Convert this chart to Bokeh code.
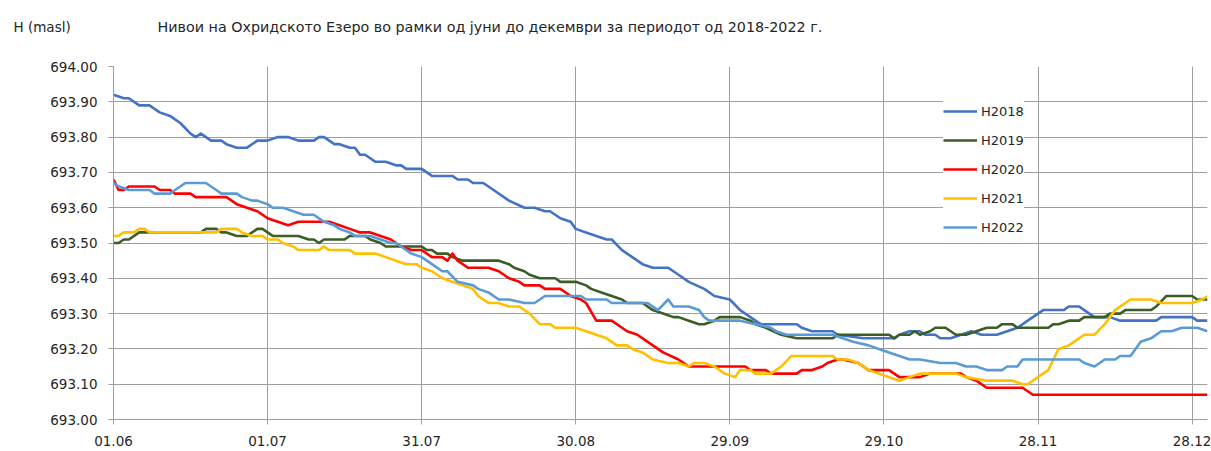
from bokeh.plotting import figure
from bokeh.models import Range1d, FixedTicker, NumeralTickFormatter, Legend, LegendItem, Title
from bokeh.embed import file_html
from bokeh.resources import INLINE

FONT = "DejaVu Sans"

title_text = "Нивои на Охридското Езеро во рамки од јуни до декември за периодот од 2018-2022  г."
y_axis_title = "H (masl)"

x_tick_days = [0, 30, 60, 90, 120, 150, 180, 210]
x_tick_labels = ["01.06", "01.07", "31.07", "30.08", "29.09", "29.10", "28.11", "28.12"]
y_ticks = [693.0, 693.1, 693.2, 693.3, 693.4, 693.5, 693.6, 693.7, 693.8, 693.9, 694.0]

series_names = ["H2018", "H2019", "H2020", "H2021", "H2022"]
series_colors = ["#4472C4", "#3B5E24", "#FF0000", "#FFC000", "#5B9BD5"]

# day index (0 = 01.06) and water level (masl)
d2018 = [0, 2, 3, 5, 7, 9, 11, 13, 15, 16, 17, 18, 19, 21, 22, 24, 26, 28, 30, 32, 34, 36, 39, 40, 41, 42, 43, 44, 46, 47, 48, 49, 50, 51, 53, 55, 56, 57, 60, 62, 66, 67, 69, 70, 72, 74, 77, 80, 82, 84, 85, 87, 89, 90, 92, 94, 96, 97, 99, 101, 103, 105, 108, 110, 112, 115, 117, 120, 122, 124, 126, 133, 134, 136, 140, 141, 146, 152, 153, 155, 157, 158, 160, 161, 163, 165, 167, 169, 172, 174, 176, 178, 180, 181, 185, 186, 188, 189, 191, 194, 196, 203, 204, 210, 211, 213]
h2018 = [693.92, 693.91, 693.91, 693.89, 693.89, 693.87, 693.86, 693.84, 693.81, 693.80, 693.81, 693.80, 693.79, 693.79, 693.78, 693.77, 693.77, 693.79, 693.79, 693.80, 693.80, 693.79, 693.79, 693.80, 693.80, 693.79, 693.78, 693.78, 693.77, 693.77, 693.75, 693.75, 693.74, 693.73, 693.73, 693.72, 693.72, 693.71, 693.71, 693.69, 693.69, 693.68, 693.68, 693.67, 693.67, 693.65, 693.62, 693.60, 693.60, 693.59, 693.59, 693.57, 693.56, 693.54, 693.53, 693.52, 693.51, 693.51, 693.48, 693.46, 693.44, 693.43, 693.43, 693.41, 693.39, 693.37, 693.35, 693.34, 693.31, 693.29, 693.27, 693.27, 693.26, 693.25, 693.25, 693.24, 693.23, 693.23, 693.24, 693.25, 693.25, 693.24, 693.24, 693.23, 693.23, 693.24, 693.25, 693.24, 693.24, 693.25, 693.26, 693.28, 693.30, 693.31, 693.31, 693.32, 693.32, 693.31, 693.29, 693.29, 693.28, 693.28, 693.29, 693.29, 693.28, 693.28]

d2019 = [0, 1, 2, 3, 5, 17, 18, 20, 21, 22, 24, 26, 28, 29, 31, 36, 38, 39, 40, 41, 45, 46, 49, 50, 52, 53, 60, 61, 62, 63, 65, 66, 68, 75, 77, 78, 80, 81, 83, 86, 87, 90, 92, 93, 95, 97, 99, 100, 103, 105, 107, 109, 110, 112, 114, 115, 117, 118, 122, 124, 125, 127, 130, 133, 140, 141, 151, 152, 153, 155, 156, 157, 159, 160, 162, 163, 164, 166, 168, 170, 172, 173, 175, 176, 182, 183, 184, 186, 188, 189, 193, 194, 196, 197, 202, 203, 205, 210, 211, 213]
h2019 = [693.50, 693.50, 693.51, 693.51, 693.53, 693.53, 693.54, 693.54, 693.53, 693.53, 693.52, 693.52, 693.54, 693.54, 693.52, 693.52, 693.51, 693.51, 693.50, 693.51, 693.51, 693.52, 693.52, 693.51, 693.50, 693.49, 693.49, 693.48, 693.48, 693.47, 693.47, 693.46, 693.45, 693.45, 693.44, 693.43, 693.42, 693.41, 693.40, 693.40, 693.39, 693.39, 693.38, 693.37, 693.36, 693.35, 693.34, 693.33, 693.33, 693.31, 693.30, 693.29, 693.29, 693.28, 693.27, 693.27, 693.28, 693.29, 693.29, 693.28, 693.27, 693.26, 693.24, 693.23, 693.23, 693.24, 693.24, 693.23, 693.24, 693.24, 693.25, 693.24, 693.25, 693.26, 693.26, 693.25, 693.24, 693.24, 693.25, 693.26, 693.26, 693.27, 693.27, 693.26, 693.26, 693.27, 693.27, 693.28, 693.28, 693.29, 693.29, 693.30, 693.30, 693.31, 693.31, 693.32, 693.35, 693.35, 693.34, 693.34]

d2020 = [0, 1, 2, 3, 8, 9, 11, 12, 15, 16, 22, 23, 24, 26, 28, 30, 32, 34, 36, 42, 44, 46, 48, 50, 52, 54, 56, 58, 60, 62, 64, 65, 66, 67, 69, 73, 75, 77, 79, 80, 83, 84, 87, 89, 91, 92, 94, 97, 99, 100, 102, 104, 106, 107, 110, 111, 112, 123, 124, 127, 128, 133, 134, 136, 138, 139, 141, 142, 145, 147, 151, 153, 157, 159, 165, 166, 168, 170, 177, 179, 213]
h2020 = [693.68, 693.65, 693.65, 693.66, 693.66, 693.65, 693.65, 693.64, 693.64, 693.63, 693.63, 693.62, 693.61, 693.60, 693.59, 693.57, 693.56, 693.55, 693.56, 693.56, 693.55, 693.54, 693.53, 693.53, 693.52, 693.51, 693.49, 693.48, 693.48, 693.46, 693.46, 693.45, 693.47, 693.45, 693.43, 693.43, 693.42, 693.40, 693.39, 693.38, 693.38, 693.37, 693.37, 693.35, 693.34, 693.33, 693.28, 693.28, 693.26, 693.25, 693.24, 693.22, 693.20, 693.19, 693.17, 693.16, 693.15, 693.15, 693.14, 693.14, 693.13, 693.13, 693.14, 693.14, 693.15, 693.16, 693.17, 693.17, 693.16, 693.14, 693.14, 693.12, 693.12, 693.13, 693.13, 693.12, 693.11, 693.09, 693.09, 693.07, 693.07]

d2021 = [0, 1, 2, 4, 5, 6, 7, 20, 21, 24, 25, 27, 29, 30, 32, 33, 35, 36, 40, 41, 42, 46, 47, 51, 53, 55, 57, 59, 60, 62, 64, 66, 68, 70, 71, 73, 75, 77, 79, 81, 83, 85, 86, 90, 92, 94, 96, 98, 100, 101, 103, 105, 108, 110, 112, 113, 115, 117, 119, 121, 122, 124, 125, 128, 130, 132, 140, 141, 143, 145, 147, 149, 151, 153, 155, 157, 164, 166, 170, 175, 177, 178, 180, 182, 183, 184, 186, 187, 189, 191, 193, 194, 195, 197, 198, 202, 204, 210, 212, 213]
h2021 = [693.52, 693.52, 693.53, 693.53, 693.54, 693.54, 693.53, 693.53, 693.54, 693.54, 693.53, 693.52, 693.52, 693.51, 693.51, 693.50, 693.49, 693.48, 693.48, 693.49, 693.48, 693.48, 693.47, 693.47, 693.46, 693.45, 693.44, 693.44, 693.43, 693.42, 693.40, 693.39, 693.38, 693.37, 693.35, 693.33, 693.33, 693.32, 693.32, 693.30, 693.27, 693.27, 693.26, 693.26, 693.25, 693.24, 693.23, 693.21, 693.21, 693.20, 693.19, 693.17, 693.16, 693.16, 693.15, 693.16, 693.16, 693.15, 693.13, 693.12, 693.14, 693.14, 693.13, 693.13, 693.15, 693.18, 693.18, 693.17, 693.17, 693.16, 693.14, 693.13, 693.12, 693.11, 693.12, 693.13, 693.13, 693.12, 693.11, 693.11, 693.10, 693.10, 693.12, 693.14, 693.17, 693.20, 693.21, 693.22, 693.24, 693.24, 693.27, 693.29, 693.31, 693.33, 693.34, 693.34, 693.33, 693.33, 693.34, 693.35]

d2022 = [0, 1, 3, 7, 8, 11, 12, 14, 18, 20, 21, 24, 25, 27, 28, 30, 31, 33, 35, 37, 39, 41, 43, 44, 46, 47, 50, 52, 54, 55, 56, 58, 60, 62, 64, 65, 67, 70, 71, 73, 75, 77, 80, 82, 84, 91, 92, 96, 97, 104, 106, 108, 109, 112, 114, 115, 116, 122, 125, 128, 129, 131, 140, 142, 144, 147, 149, 151, 153, 155, 157, 161, 164, 166, 168, 170, 173, 174, 176, 177, 188, 189, 191, 192, 193, 195, 196, 198, 199, 200, 202, 204, 206, 208, 211, 213]
h2022 = [693.67, 693.66, 693.65, 693.65, 693.64, 693.64, 693.65, 693.67, 693.67, 693.65, 693.64, 693.64, 693.63, 693.62, 693.62, 693.61, 693.60, 693.60, 693.59, 693.58, 693.58, 693.56, 693.55, 693.54, 693.53, 693.52, 693.52, 693.51, 693.50, 693.50, 693.49, 693.47, 693.46, 693.44, 693.42, 693.42, 693.39, 693.38, 693.37, 693.36, 693.34, 693.34, 693.33, 693.33, 693.35, 693.35, 693.34, 693.34, 693.33, 693.33, 693.31, 693.34, 693.32, 693.32, 693.31, 693.29, 693.28, 693.28, 693.27, 693.26, 693.25, 693.24, 693.24, 693.23, 693.22, 693.21, 693.20, 693.19, 693.18, 693.17, 693.17, 693.16, 693.16, 693.15, 693.15, 693.14, 693.14, 693.15, 693.15, 693.17, 693.17, 693.16, 693.15, 693.16, 693.17, 693.17, 693.18, 693.18, 693.20, 693.22, 693.23, 693.25, 693.25, 693.26, 693.26, 693.25]

series_days = [d2018, d2019, d2020, d2021, d2022]
series_vals = [h2018, h2019, h2020, h2021, h2022]

GRID = "#9e9e9e"
TXT = "#262626"

p = figure(width=1211, height=451, output_backend="svg", toolbar_location=None,
           x_range=Range1d(0, 213), y_range=Range1d(693.0, 694.0),
           min_border_left=113, min_border_right=4, min_border_top=66, min_border_bottom=32,
           background_fill_color="white", border_fill_color="white")
p.outline_line_color = None

p.xaxis.ticker = FixedTicker(ticks=x_tick_days)
p.xaxis.major_label_overrides = {d: lab for d, lab in zip(x_tick_days, x_tick_labels)}
p.yaxis.ticker = FixedTicker(ticks=y_ticks)
p.yaxis.formatter = NumeralTickFormatter(format="0.00")

for ax in (p.xaxis, p.yaxis):
    ax.axis_line_color = GRID
    ax.axis_line_width = 1
    ax.major_tick_line_color = GRID
    ax.major_tick_in = 0
    ax.major_tick_out = 5
    ax.minor_tick_line_color = None
    ax.major_label_text_font = FONT
    ax.major_label_text_font_size = "13.5px"
    ax.major_label_text_color = TXT
p.xaxis.major_label_standoff = 11
p.yaxis.major_label_standoff = 11

p.grid.grid_line_color = GRID
p.grid.grid_line_width = 1

items = []
for name, col, xs, ys in zip(series_names, series_colors, series_days, series_vals):
    r = p.line(xs, ys, line_color=col, line_width=2.6, line_join="round")
    items.append(LegendItem(label=name, renderers=[r]))

legend = Legend(items=items, location=(830, 179), glyph_width=34, glyph_height=26,
                label_height=26, spacing=3, padding=10, margin=0, label_standoff=4,
                border_line_color=None, background_fill_color="white", background_fill_alpha=1.0,
                label_text_font=FONT, label_text_font_size="13px", label_text_color=TXT)
p.add_layout(legend)

# texts above the plot area: a thin spacer row, then two zero-height rows centred on one line
p.add_layout(Title(text=" ", text_font_size="1px", standoff=37), "above")
p.add_layout(Title(text=y_axis_title, align="left", offset=-100, vertical_align="middle",
                   standoff=-18, text_font=FONT, text_font_size="13.5px",
                   text_font_style="normal", text_color=TXT), "above")
p.title.text = title_text
p.title.align = "left"
p.title.offset = 44
p.title.vertical_align = "middle"
p.title.standoff = -18
p.title.text_font = FONT
p.title.text_font_size = "14.3px"
p.title.text_font_style = "normal"
p.title.text_color = TXT

open("out.html", "w").write(file_html(p, INLINE))
